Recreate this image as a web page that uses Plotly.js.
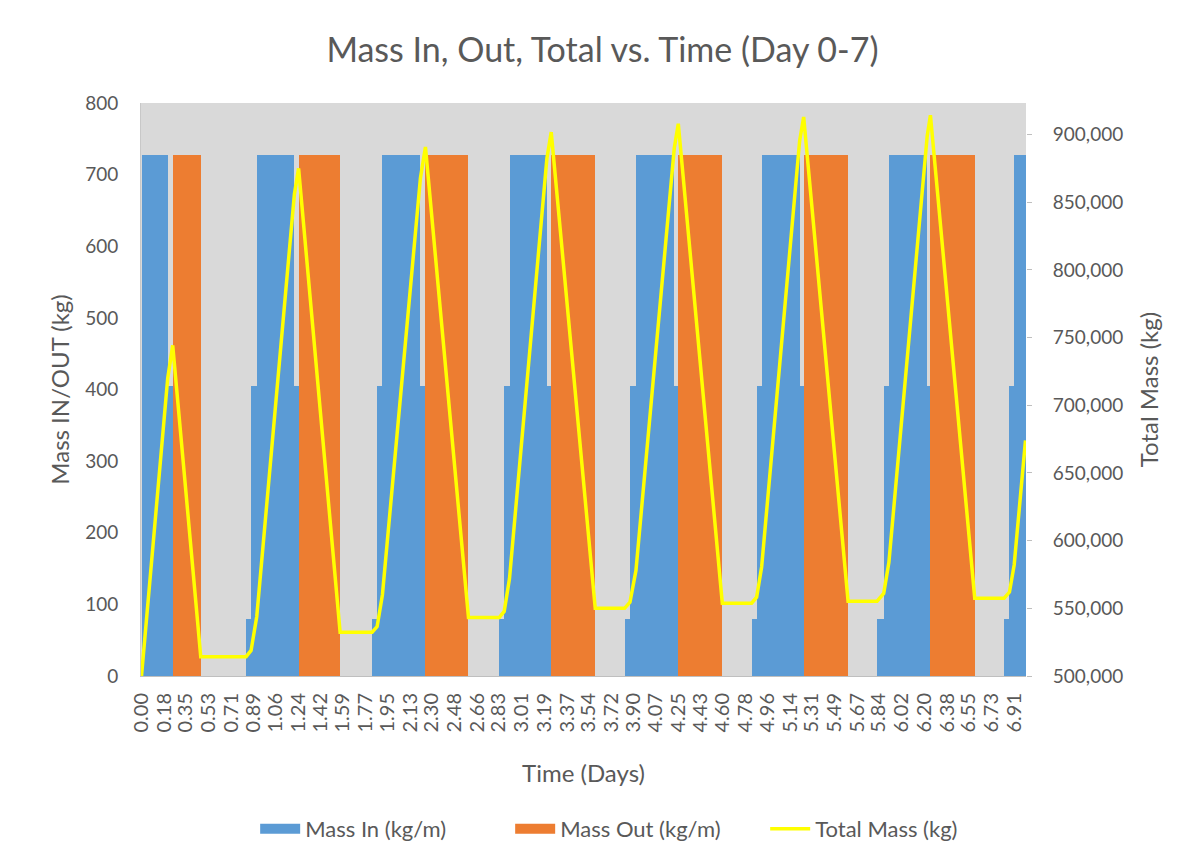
<!DOCTYPE html>
<html>
<head>
<meta charset="utf-8">
<script src="https://cdn.plot.ly/plotly-3.0.1.min.js"></script>
<style>html,body{margin:0;padding:0;background:#fff;}#chart{width:1193px;height:864px;}</style>
</head>
<body>
<div id="chart"></div>
<script>
// Tick labels (days)
const tickLabels = ["0.00","0.18","0.35","0.53","0.71","0.89","1.06","1.24","1.42","1.59","1.77","1.95","2.13","2.30","2.48","2.66","2.83","3.01","3.19","3.37","3.54","3.72","3.90","4.07","4.25","4.43","4.60","4.78","4.96","5.14","5.31","5.49","5.67","5.84","6.02","6.20","6.38","6.55","6.73","6.91"];

// Mass In (kg/m) segments: start day, end day, value
const inStart = [0, 0.2076, 0.8281, 0.8677, 0.9128, 1.2108, 1.8265, 1.8661, 1.9081, 2.2092, 2.8328, 2.8724, 2.9144, 3.2108, 3.8257, 3.8685, 3.9160, 4.2195, 4.8320, 4.8716, 4.9113, 5.2124, 5.8257, 5.8780, 5.9192, 6.2227, 6.8320, 6.8740, 6.9113];
const inEnd   = [0.2076, 0.2472, 0.8677, 0.9128, 1.2108, 1.2441, 1.8661, 1.9081, 2.2092, 2.2488, 2.8724, 2.9144, 3.2108, 3.2449, 3.8685, 3.9160, 4.2195, 4.2512, 4.8716, 4.9113, 5.2124, 5.2441, 5.8780, 5.9192, 6.2227, 6.2480, 6.8740, 6.9113, 7.005];
const inValue = [728, 405, 80, 405, 728, 405, 80, 405, 728, 405, 80, 405, 728, 405, 80, 405, 728, 405, 80, 405, 728, 405, 80, 405, 728, 405, 80, 405, 728];

// Mass Out (kg/m) segments
const outStart = [0.2472, 1.2441, 2.2488, 3.2449, 4.2512, 5.2441, 6.2480];
const outEnd   = [0.4691, 1.5729, 2.5895, 3.5935, 4.5998, 5.5959, 6.5990];
const outValue = [728, 728, 728, 728, 728, 728, 728];

// Total Mass (kg)
const totalTime = [0, 0.2076, 0.2472, 0.4691, 0.8281, 0.8677, 0.9128, 1.2108, 1.2441, 1.5729, 1.8265, 1.8661, 1.9081, 2.2092, 2.2488, 2.5895, 2.8328, 2.8724, 2.9144, 3.2108, 3.2449, 3.5935, 3.8257, 3.8685, 3.9160, 4.2195, 4.2512, 4.5998, 4.8320, 4.8716, 4.9113, 5.2124, 5.2441, 5.5959, 5.8257, 5.8780, 5.9192, 6.2227, 6.2480, 6.5990, 6.8320, 6.8740, 6.9113, 7.001];
const totalMass = [500000, 720000, 744300, 514300, 514300, 518900, 544000, 856000, 875000, 532300, 532300, 536500, 560000, 868000, 890800, 543200, 543200, 547700, 572000, 882500, 901800, 550000, 550000, 554500, 578000, 890000, 908000, 553800, 553800, 558200, 580500, 895500, 913000, 555300, 555300, 561000, 584000, 899000, 914300, 557500, 557500, 562000, 582000, 674000];

const FONT = "Lato, 'Open Sans', sans-serif";
const GREY = "#595959";
const BLUE = "#5B9BD5", ORANGE = "#ED7D31", YELLOW = "#FFFF00";

const mid = (s, e) => s.map((v, i) => (v + e[i]) / 2);
const wid = (s, e) => s.map((v, i) => e[i] - v);

const traces = [
  {type: "bar", name: "Mass In (kg/m)", x: mid(inStart, inEnd), width: wid(inStart, inEnd), y: inValue,
   marker: {color: BLUE, line: {width: 0}}, yaxis: "y", showlegend: false, legendgroup: "in"},
  {type: "bar", name: "Mass Out (kg/m)", x: mid(outStart, outEnd), width: wid(outStart, outEnd), y: outValue,
   marker: {color: ORANGE, line: {width: 0}}, yaxis: "y", showlegend: false, legendgroup: "out"},
  {type: "scatter", mode: "lines", name: "Total Mass (kg)", x: totalTime, y: totalMass,
   line: {color: YELLOW, width: 3.5}, yaxis: "y2", showlegend: false, legendgroup: "tot"},
  // legend-only entries (wide swatches like the original)
  {type: "scatter", mode: "lines", name: "Mass In (kg/m)", x: [null], y: [null],
   line: {color: BLUE, width: 13}, yaxis: "y", legendgroup: "in"},
  {type: "scatter", mode: "lines", name: "Mass Out (kg/m)", x: [null], y: [null],
   line: {color: ORANGE, width: 13}, yaxis: "y", legendgroup: "out"},
  {type: "scatter", mode: "lines", name: "Total Mass (kg)", x: [null], y: [null],
   line: {color: YELLOW, width: 3.5}, yaxis: "y2", legendgroup: "tot"}
];

const layout = {
  width: 1193, height: 864,
  paper_bgcolor: "#ffffff", plot_bgcolor: "#d9d9d9",
  margin: {l: 141, r: 167, t: 103, b: 188},
  barmode: "overlay", bargap: 0,
  font: {family: FONT, color: GREY},
  title: {text: "Mass In, Out, Total vs. Time (Day 0-7)", x: 0.505, xanchor: "center", y: 0.942, yanchor: "middle",
          font: {family: FONT, size: 34, color: GREY}},
  showlegend: true,
  legend: {orientation: "h", x: 0.129, xanchor: "left", y: -0.267, yanchor: "middle",
           font: {family: FONT, size: 22, color: GREY}, traceorder: "normal", itemwidth: 40,
           entrywidth: 200, entrywidthmode: "pixels", tracegroupgap: 0},
  xaxis: {range: [-0.004, 7.005], tickmode: "array",
          tickvals: tickLabels.map(Number), ticktext: tickLabels, tickangle: -90,
          tickfont: {family: FONT, size: 20, color: GREY}, showgrid: false, zeroline: false,
          showline: true, linecolor: "#bfbfbf", linewidth: 1, ticks: "", ticklabelstandoff: 8,
          title: {text: "Time (Days)", font: {family: FONT, size: 24, color: GREY}, standoff: 33}},
  yaxis: {range: [0, 800], dtick: 100, showgrid: false, zeroline: false,
          showline: true, linecolor: "#c8c8c8", ticks: "", ticklabelstandoff: 18,
          tickfont: {family: FONT, size: 19, color: GREY},
          title: {text: "Mass IN/OUT (kg)", font: {family: FONT, size: 24, color: GREY}, standoff: 8}},
  yaxis2: {overlaying: "y", side: "right", range: [500000, 923300], dtick: 50000, tickformat: ",",
           showgrid: false, zeroline: false, showline: false, ticks: "outside", ticklen: 5, tickcolor: "#bfbfbf",
           ticklabelstandoff: 17, tickfont: {family: FONT, size: 19, color: GREY},
           title: {text: "Total Mass (kg)", font: {family: FONT, size: 24, color: GREY}, standoff: 18}}
};

Plotly.newPlot("chart", traces, layout, {displayModeBar: false, staticPlot: true});
</script>
</body>
</html>
